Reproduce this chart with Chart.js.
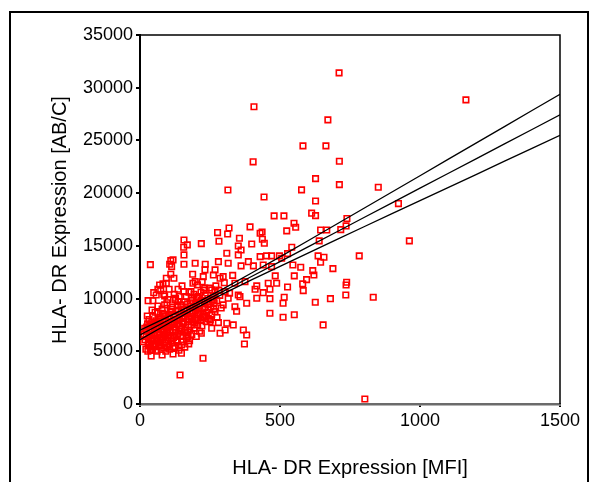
<!DOCTYPE html>
<html>
<head>
<meta charset="utf-8">
<script src="https://cdn.jsdelivr.net/npm/chart.js@4"></script>
<style>
  body { margin: 0; background: #fff; }
  #wrap { position: relative; width: 595px; height: 482px; }
  #frame { position: absolute; left: 9px; top: 11px; width: 576px; height: 480px;
           border: 2px solid #000; border-bottom: none; pointer-events: none; }
  canvas { position: absolute; left: 0; top: 0; }
</style>
</head>
<body>
<div id="wrap">
  <canvas id="chartHla" width="595" height="482"></canvas>
  <div id="frame"></div>
</div>
<script>
// data ------------------------------------------------------------------------

// x = MFI, y = AB/C
var pointsMfi = [
  [1164,28850],[711,31410],[407,28190],[671,26950],[582,24480],[664,24480],[404,22970],[712,23030],
  [627,21380],[712,20810],[577,20310],[851,20560],[314,20300],[443,19640],[627,19260],[923,19010],
  [613,18100],[627,17870],[479,17840],[514,17840],[550,17150],[556,16770],[524,16420],[739,17590],
  [736,16890],[717,16540],[645,16510],[667,16510],[318,16700],[393,16800],[436,16320],[640,15470],
  [962,15470],[542,14870],[527,14260],[498,14050],[506,13830],[636,14050],[657,13920],[783,14050],
  [645,13450],[470,13030],[546,13190],[574,12970],[689,12840],[617,12650],[621,12240],[483,12150],
  [551,12150],[595,11800],[738,11550],[736,11290],[488,11450],[527,11100],[581,11390],[583,10750],
  [464,10880],[735,10340],[833,10120],[515,10120],[464,9990],[680,9990],[511,9560],[626,9650],
  [551,8470],[511,8230],[654,7500],[803,475],
  // left cluster
  [157,15560],[169,15090],[156,14870],[219,15210],[157,14140],[37,13220],[110,13600],[118,13670],
  [106,13260],[157,13260],[197,13350],[113,13030],[233,13260],[110,12310],[94,11930],[121,11930],
  [188,12310],[226,12080],[82,11390],[70,11290],[94,11450],[64,10880],[74,10750],[104,10880],
  [49,10560],[58,10340],[136,10880],[157,10660],[182,10660],[189,11450],[197,11610],[231,10990],
  [29,9800],[46,9800],[88,10250],[127,10030],[136,9710],[183,10030],[207,10180],[88,9400],
  [43,8920],[64,8610],[112,8760],[159,8920],[26,8350],[17,7180],[35,7340],[58,7180],
  [70,7820],[90,7340],[124,7970],[154,7820],[183,7820],[219,7970],[231,8290],[23,6390],
  [46,6070],[76,6230],[100,6550],[130,6070],[171,6390],[219,6710],[29,5600],[58,5440],
  [88,5760],[118,5440],[148,5600],[177,6010],[40,4560],[79,4650],[118,4750],[148,4810],
  [225,4340],[143,2750],
  // middle cluster
  [277,16260],[313,16130],[355,15720],[429,16200],[437,15630],[282,15440],[399,15180],[444,15250],
  [351,14990],[361,14610],[310,14300],[351,14140],[429,13980],[452,14050],[470,14050],[280,13500],
  [315,13350],[361,13100],[387,13500],[405,13100],[440,13190],[232,12720],[268,12720],[262,12240],
  [286,11930],[297,12080],[339,11450],[375,11610],[417,11200],[458,11450],[256,10820],[304,10660],
  [351,10340],[411,10880],[440,10560],[232,9710],[262,9870],[315,10030],[357,10180],[417,10030],
  [244,8920],[268,8760],[297,9400],[339,9230],[381,9560],[464,8610],[250,7820],[280,7720],
  [310,7660],[256,7180],[304,7020],[333,7500],[286,6710],[369,7020],[381,6550],[373,5690],
  // dense mass near the line
  [12,5900],[15,6600],[21,5200],[22,6900],[27,7600],[28,5000],[31,6200],[32,8000],
  [35,6800],[36,5400],[39,7100],[41,6000],[42,7700],[45,5200],[46,8300],[49,6500],
  [50,7300],[53,5700],[54,8700],[57,6200],[58,7900],[61,5000],[62,6800],[64,9300],
  [67,5800],[68,7400],[71,6300],[72,8200],[75,5500],[76,7000],[79,9000],[81,6100],
  [82,7600],[85,5300],[86,8500],[89,6600],[90,7900],[93,5900],[94,7200],[96,9600],
  [99,6300],[101,8100],[103,5600],[104,7500],[107,6900],[108,8800],[111,6200],[112,7700],
  [115,5800],[116,9200],[119,7000],[121,8400],[123,6500],[124,7300],[126,9900],[129,6000],
  [131,8000],[132,7600],[135,6700],[137,8900],[138,5500],[141,7400],[142,8500],[145,6400],
  [146,9400],[149,7100],[151,8200],[152,5900],[155,7700],[156,9000],[159,6800],[161,8600],
  [162,7300],[165,10200],[166,6200],[169,8000],[170,9500],[173,7500],[174,5700],[177,8800],
  [178,7000],[181,9300],[182,8300],[185,6600],[186,9800],[189,7800],[190,8700],[193,10400],
  [194,7200],[197,9100],[198,8100],[201,6400],[202,9700],[205,8500],[206,7500],[209,10000],
  [210,8800],[213,6900],[214,9300],[217,8000],[218,10600],[221,7400],[224,9000],[228,8300],
  [233,10300],[236,7800],[241,9500],[244,8100],[248,11000],[253,9200],[256,8500],[261,10200],
  [265,9600],[271,11200],[275,8200],[281,10800],[290,9100],[301,11500],[320,10500],[331,12200],
  [345,8800],
  [18,6100],[24,7300],[33,5800],[37,6500],[44,7000],[47,5500],[52,6700],[55,7600],
  [60,6000],[63,7100],[66,8000],[69,6600],[73,5900],[77,7400],[80,8600],[84,6400],
  [87,7100],[91,8300],[95,6800],[97,5400],[102,7300],[105,8400],[109,6500],[113,9000],
  [117,7600],[120,6300],[125,8200],[128,7000],[133,9300],[134,5900],[139,7900],[143,6900],
  [147,8700],[150,7600],[153,6500],[158,8300],[160,9700],[163,7000],[167,8900],[171,6800],
  [175,8100],[179,9600],[183,7500],[187,8600],[191,9200],[195,7700],[199,8900],[203,10100],
  [207,7900],[211,9500],[215,8600],[219,9800],[223,8200],[227,10800],[231,9100],[238,8700],
  [242,10000],[247,9700],[251,8000],[258,9900],[263,9000],[268,10600],[274,9800],[285,10300],
  [38,5100],[56,5100],[70,5600],[92,5000],[106,5200],[125,5300],[139,5100],[160,5400],
  [100,9900],[85,10400],[122,10400],[140,10200],[150,11200],[175,10600],[205,11300],[222,11600]
];

// regression line and its band, read at these MFI values
var lineMfi   = [0, 100, 200, 300, 400, 500, 600, 700, 800, 900, 1000, 1100, 1200, 1300, 1400, 1500];
var fitMid    = [6550, 7940, 9330, 10730, 12120, 13510, 14900, 16290, 17690, 19080, 20470, 21860, 23250, 24650, 26040, 27430];
var fitUpper  = [7000, 8270, 9570, 10970, 12450, 13960, 15490, 17020, 18570, 20110, 21650, 23200, 24740, 26290, 27840, 29380];
var fitLower  = [6100, 7610, 9090, 10490, 11790, 13060, 14310, 15560, 16810, 18050, 19290, 20520, 21760, 23010, 24240, 25480];

var xTicks = [0, 500, 1000, 1500];
var yTicks = [0, 5000, 10000, 15000, 20000, 25000, 30000, 35000];

var xTitle = 'HLA- DR Expression [MFI]';
var yTitle = 'HLA- DR Expression [AB/C]';

// ----------------------------------------------------------------------------

function toXY(xs, ys) {
    return xs.map(function (x, i) { return { x: x, y: ys[i] }; });
}

function lineSet(ys) {
    return {
        type: 'line',
        data: toXY(lineMfi, ys),
        borderColor: '#000',
        borderWidth: 1.3,
        pointRadius: 0,
        fill: false,
        tension: 0,
        order: 0
    };
}

// frame + axis titles
var framePlugin = {
    id: 'framePlugin',
    afterDraw: function (chart) {
        var ctx = chart.ctx;
        var a = chart.chartArea;
        ctx.save();
        ctx.strokeStyle = '#000';
        ctx.lineWidth = 1.5;
        ctx.beginPath();
        ctx.moveTo(a.left, a.top);
        ctx.lineTo(a.right, a.top);
        ctx.lineTo(a.right, a.bottom);
        ctx.stroke();

        ctx.fillStyle = '#000';
        ctx.font = '20px "Liberation Sans", Arial, sans-serif';
        ctx.textAlign = 'center';
        ctx.textBaseline = 'middle';
        ctx.fillText(xTitle, 350, 468);
        ctx.translate(60, 220);
        ctx.rotate(-Math.PI / 2);
        ctx.fillText(yTitle, 0, 0);
        ctx.restore();
    }
};

function plainLabel(v) {
    return String(v);
}

function chartHla() {
    var tickFont = { family: '"Liberation Sans", Arial, sans-serif', size: 18 };

    const configHla = {
        type: 'scatter',
        data: {
            datasets: [
                lineSet(fitUpper),
                lineSet(fitMid),
                lineSet(fitLower),
                {
                    data: pointsMfi.map(function (p) { return { x: p[0], y: p[1] }; }),
                    pointStyle: 'rect',
                    pointRadius: 3.9,
                    borderColor: '#ff0000',
                    backgroundColor: 'rgba(0,0,0,0)',
                    borderWidth: 1.6,
                    order: 1
                }
            ]
        },
        options: {
            responsive: false,
            animation: false,
            layout: { padding: { top: 35, right: 35, left: 0, bottom: 0 } },
            plugins: { legend: { display: false }, tooltip: { enabled: false } },
            scales: {
                x: {
                    type: 'linear',
                    min: 0, max: 1500,
                    afterBuildTicks: function (s) { s.ticks = xTicks.map(function (v) { return { value: v }; }); },
                    afterFit: function (s) { s.height = 78; },
                    grid: { drawOnChartArea: false, drawTicks: true, tickLength: 3, color: '#000', lineWidth: 2 },
                    border: { display: true, color: '#6b6b6b', width: 2.5 },
                    ticks: { color: '#000', font: tickFont, padding: 3, maxRotation: 0, callback: plainLabel }
                },
                y: {
                    type: 'linear',
                    min: 0, max: 35000,
                    afterBuildTicks: function (s) { s.ticks = yTicks.map(function (v) { return { value: v }; }); },
                    afterFit: function (s) { s.width = 140; },
                    grid: { drawOnChartArea: false, drawTicks: true, tickLength: 4, color: '#000', lineWidth: 2 },
                    border: { display: true, color: '#000', width: 2 },
                    ticks: { color: '#000', font: tickFont, padding: 3, callback: plainLabel }
                }
            }
        },
        plugins: [framePlugin]
    };

    const myChartHla = new Chart(
        document.getElementById('chartHla'),
        configHla
    );
}

chartHla();
</script>
</body>
</html>
